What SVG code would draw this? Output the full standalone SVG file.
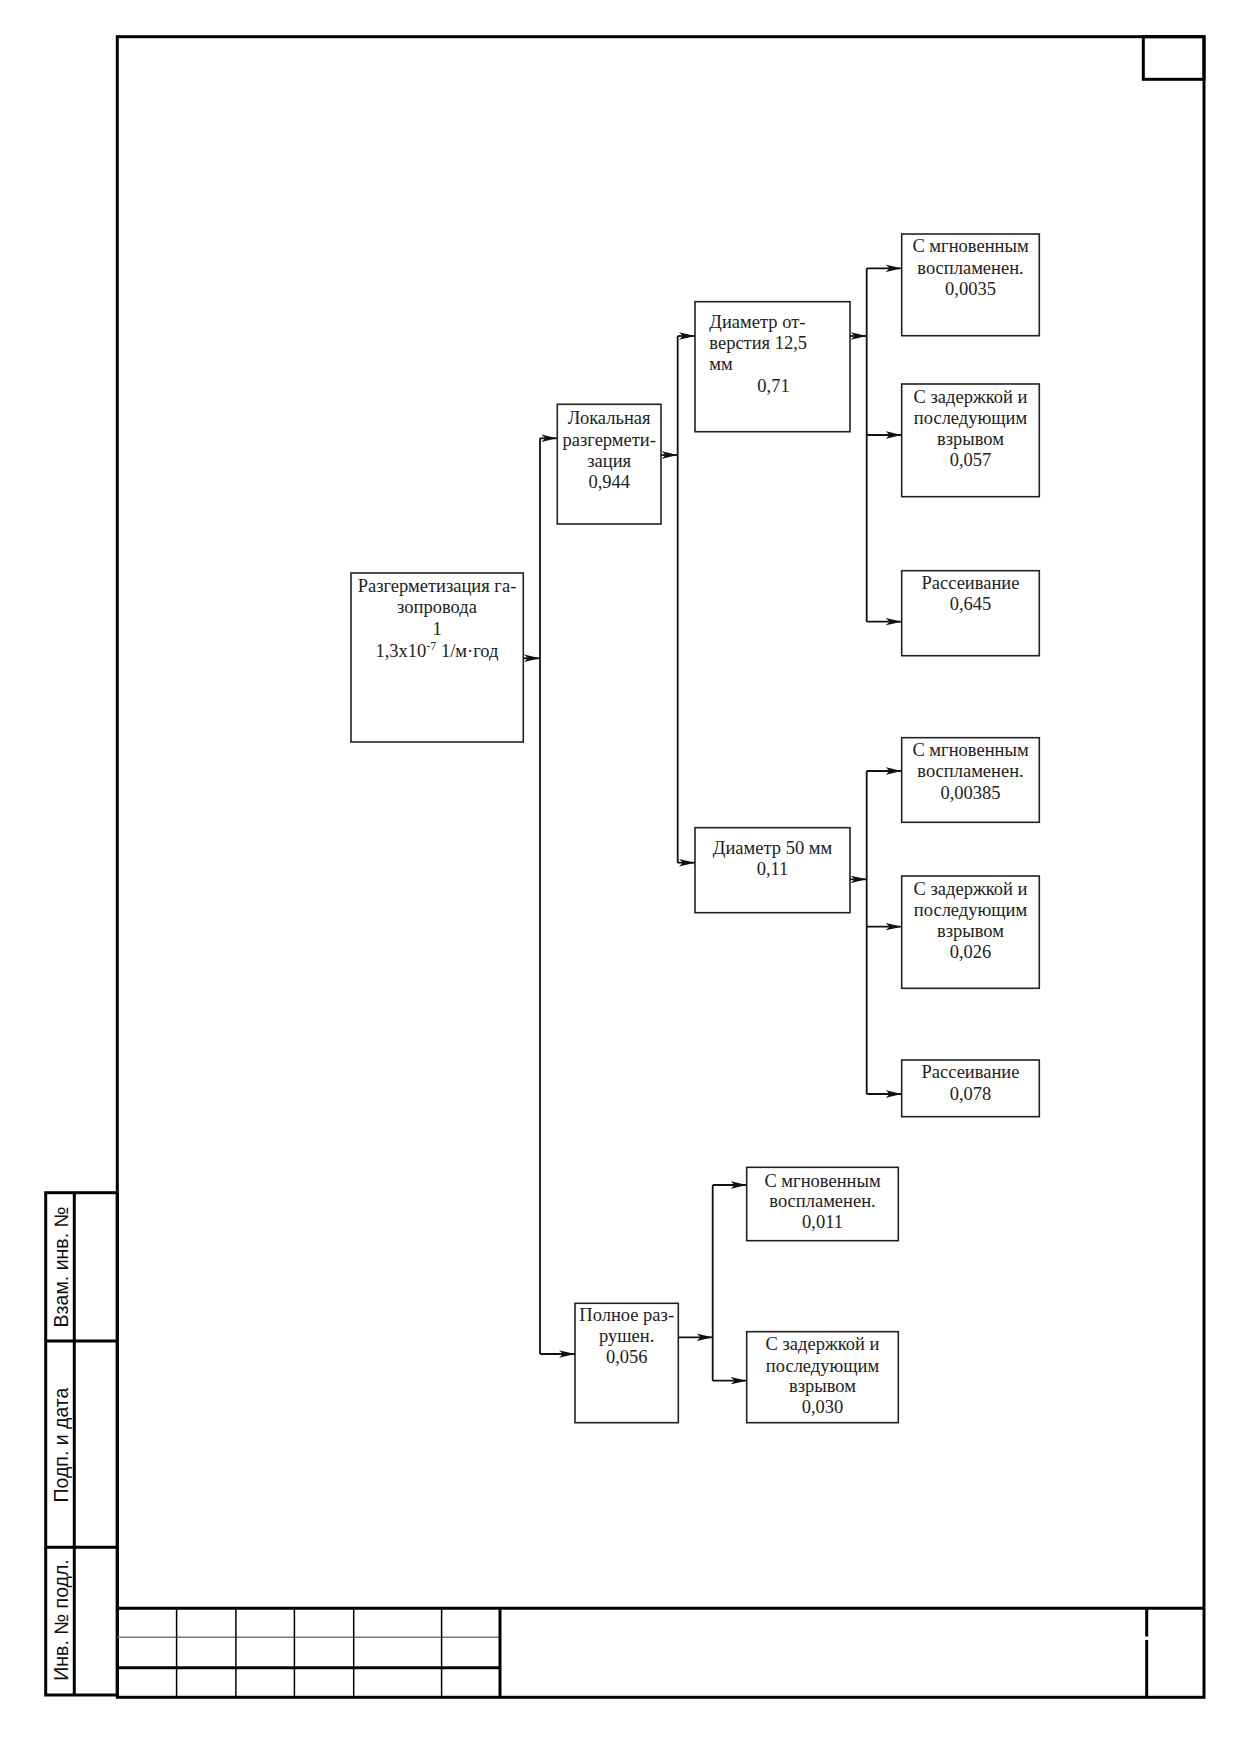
<svg xmlns="http://www.w3.org/2000/svg" width="1239" height="1754" viewBox="0 0 1239 1754">
<style>
.frame{fill:none;stroke:#000;stroke-width:3}
.thin{fill:none;stroke:#000;stroke-width:1.5}
.gray{fill:none;stroke:#777;stroke-width:1.5}
.box{fill:#fff;stroke:#222;stroke-width:1.6}
.con{fill:none;stroke:#111;stroke-width:1.8}
.t{font-family:"Liberation Serif","Times New Roman",serif;font-size:18.5px;fill:#222;text-anchor:middle}
.tl{font-family:"Liberation Serif","Times New Roman",serif;font-size:18.5px;fill:#222}
.s{font-family:"Liberation Sans",Arial,sans-serif;font-size:19.5px;fill:#111;text-anchor:middle}
</style>
<defs>
<marker id="ar" markerUnits="userSpaceOnUse" markerWidth="16" markerHeight="9" refX="16" refY="4.5" orient="auto">
<path d="M0,0.8 L16,4.5 L0,8.2 L4,4.5 Z" fill="#111"/>
</marker>
</defs>
<rect width="1239" height="1754" fill="#fff"/>

<g id="sheet-frame">
<rect class="frame" x="117.3" y="36.7" width="1086.7" height="1660.6"/>
<rect class="frame" x="1143.3" y="36.7" width="60.7" height="42.6"/>
</g>

<g id="side-strip">
<rect class="frame" x="45.7" y="1192.7" width="71.6" height="502.3"/>
<line class="frame" x1="74.3" y1="1192.7" x2="74.3" y2="1695"/>
<line class="frame" x1="45.7" y1="1341" x2="117.3" y2="1341"/>
<line class="frame" x1="45.7" y1="1547.3" x2="117.3" y2="1547.3"/>
<text class="s" transform="translate(67.5,1267) rotate(-90)">Взам. инв. №</text>
<text class="s" transform="translate(67.5,1445) rotate(-90)">Подп. и дата</text>
<text class="s" transform="translate(67.5,1620) rotate(-90)">Инв. № подл.</text>
</g>

<g id="title-block">
<line class="frame" x1="117.3" y1="1608.3" x2="1204" y2="1608.3"/>
<line class="gray" x1="117.3" y1="1637.3" x2="500" y2="1637.3"/>
<line class="frame" x1="117.3" y1="1667.7" x2="500" y2="1667.7"/>
<line class="thin" x1="176.6" y1="1608.3" x2="176.6" y2="1697.3" stroke-width="2.5"/>
<line class="thin" x1="235.9" y1="1608.3" x2="235.9" y2="1697.3" stroke-width="2.5"/>
<line class="thin" x1="294.4" y1="1608.3" x2="294.4" y2="1697.3" stroke-width="2.5"/>
<line class="thin" x1="353.7" y1="1608.3" x2="353.7" y2="1697.3" stroke-width="2.5"/>
<line class="thin" x1="441.6" y1="1608.3" x2="441.6" y2="1697.3" stroke-width="2.5"/>
<line class="frame" x1="500" y1="1608.3" x2="500" y2="1697.3"/>
<line class="frame" x1="1146.7" y1="1608.3" x2="1146.7" y2="1636.5"/>
<line class="frame" x1="1146.7" y1="1640" x2="1146.7" y2="1697.3"/>
</g>

<g id="connectors">
<line class="con" x1="523.3" y1="658.3" x2="540" y2="658.3" marker-end="url(#ar)"/>
<line class="con" x1="540" y1="438.3" x2="540" y2="1354"/>
<line class="con" x1="540" y1="438.3" x2="557.3" y2="438.3" marker-end="url(#ar)"/>
<line class="con" x1="540" y1="1354" x2="575" y2="1354" marker-end="url(#ar)"/>
<line class="con" x1="661" y1="455" x2="677.7" y2="455" marker-end="url(#ar)"/>
<line class="con" x1="677.7" y1="336" x2="677.7" y2="862.7"/>
<line class="con" x1="677.7" y1="336" x2="695" y2="336" marker-end="url(#ar)"/>
<line class="con" x1="677.7" y1="862.7" x2="695" y2="862.7" marker-end="url(#ar)"/>
<line class="con" x1="850" y1="336" x2="866.7" y2="336" marker-end="url(#ar)"/>
<line class="con" x1="866.7" y1="268.3" x2="866.7" y2="621.7"/>
<line class="con" x1="866.7" y1="268.3" x2="901.7" y2="268.3" marker-end="url(#ar)"/>
<line class="con" x1="866.7" y1="435" x2="901.7" y2="435" marker-end="url(#ar)"/>
<line class="con" x1="866.7" y1="621.7" x2="901.7" y2="621.7" marker-end="url(#ar)"/>
<line class="con" x1="850" y1="879.3" x2="866.7" y2="879.3" marker-end="url(#ar)"/>
<line class="con" x1="866.7" y1="771" x2="866.7" y2="1094"/>
<line class="con" x1="866.7" y1="771" x2="901.7" y2="771" marker-end="url(#ar)"/>
<line class="con" x1="866.7" y1="926.7" x2="901.7" y2="926.7" marker-end="url(#ar)"/>
<line class="con" x1="866.7" y1="1094" x2="901.7" y2="1094" marker-end="url(#ar)"/>
<line class="con" x1="678.3" y1="1337.3" x2="712.7" y2="1337.3" marker-end="url(#ar)"/>
<line class="con" x1="712.7" y1="1185" x2="712.7" y2="1380.7"/>
<line class="con" x1="712.7" y1="1185" x2="746.7" y2="1185" marker-end="url(#ar)"/>
<line class="con" x1="712.7" y1="1380.7" x2="746.7" y2="1380.7" marker-end="url(#ar)"/>
</g>

<g id="root">
<rect class="box" x="351" y="573" width="172.3" height="169"/>
<text class="t" x="437" y="591.7">Разгерметизация га-</text>
<text class="t" x="437" y="613.3">зопровода</text>
<text class="t" x="437" y="635">1</text>
<text class="t" x="437" y="656.7">1,3x10<tspan font-size="12" dy="-7">-7</tspan><tspan dy="7"> 1/м·год</tspan></text>
</g>

<g id="local">
<rect class="box" x="557.3" y="404.3" width="103.7" height="119.7"/>
<text class="t" x="609.2" y="424.3">Локальная</text>
<text class="t" x="609.2" y="446">разгермети-</text>
<text class="t" x="609.2" y="467.3">зация</text>
<text class="t" x="609.2" y="488">0,944</text>
</g>

<g id="d125">
<rect class="box" x="695" y="301.7" width="155" height="130"/>
<text class="tl" x="709.3" y="328.3">Диаметр от-</text>
<text class="tl" x="709.3" y="349.3">верстия 12,5</text>
<text class="tl" x="709.3" y="370">мм</text>
<text class="t" x="773.5" y="391.7">0,71</text>
</g>

<g id="d50">
<rect class="box" x="695" y="827.7" width="155" height="85"/>
<text class="t" x="772.5" y="854">Диаметр 50 мм</text>
<text class="t" x="772.5" y="875">0,11</text>
</g>

<g id="full">
<rect class="box" x="575" y="1303.3" width="103.3" height="119.4"/>
<text class="t" x="626.7" y="1320.7">Полное раз-</text>
<text class="t" x="626.7" y="1341.7">рушен.</text>
<text class="t" x="626.7" y="1363.3">0,056</text>
</g>

<g id="leaf1">
<rect class="box" x="901.7" y="234" width="137.6" height="101.7"/>
<text class="t" x="970.5" y="252.3">С мгновенным</text>
<text class="t" x="970.5" y="274">воспламенен.</text>
<text class="t" x="970.5" y="295">0,0035</text>
</g>

<g id="leaf2">
<rect class="box" x="901.7" y="384" width="137.6" height="112.7"/>
<text class="t" x="970.5" y="402.7">С задержкой и</text>
<text class="t" x="970.5" y="424">последующим</text>
<text class="t" x="970.5" y="445">взрывом</text>
<text class="t" x="970.5" y="466">0,057</text>
</g>

<g id="leaf3">
<rect class="box" x="901.7" y="570.7" width="137.6" height="85"/>
<text class="t" x="970.5" y="589.3">Рассеивание</text>
<text class="t" x="970.5" y="610">0,645</text>
</g>

<g id="leaf4">
<rect class="box" x="901.7" y="737.7" width="137.6" height="84.6"/>
<text class="t" x="970.5" y="755.7">С мгновенным</text>
<text class="t" x="970.5" y="777.3">воспламенен.</text>
<text class="t" x="970.5" y="799">0,00385</text>
</g>

<g id="leaf5">
<rect class="box" x="901.7" y="876" width="137.6" height="112.3"/>
<text class="t" x="970.5" y="895">С задержкой и</text>
<text class="t" x="970.5" y="916">последующим</text>
<text class="t" x="970.5" y="936.7">взрывом</text>
<text class="t" x="970.5" y="958">0,026</text>
</g>

<g id="leaf6">
<rect class="box" x="901.7" y="1060" width="137.6" height="56.7"/>
<text class="t" x="970.5" y="1078.3">Рассеивание</text>
<text class="t" x="970.5" y="1100">0,078</text>
</g>

<g id="leaf7">
<rect class="box" x="746.7" y="1167.3" width="151.6" height="73.4"/>
<text class="t" x="822.5" y="1186.7">С мгновенным</text>
<text class="t" x="822.5" y="1207.3">воспламенен.</text>
<text class="t" x="822.5" y="1228.3">0,011</text>
</g>

<g id="leaf8">
<rect class="box" x="746.7" y="1331.7" width="151.6" height="91"/>
<text class="t" x="822.5" y="1350">С задержкой и</text>
<text class="t" x="822.5" y="1371.7">последующим</text>
<text class="t" x="822.5" y="1391.7">взрывом</text>
<text class="t" x="822.5" y="1413">0,030</text>
</g>
</svg>
